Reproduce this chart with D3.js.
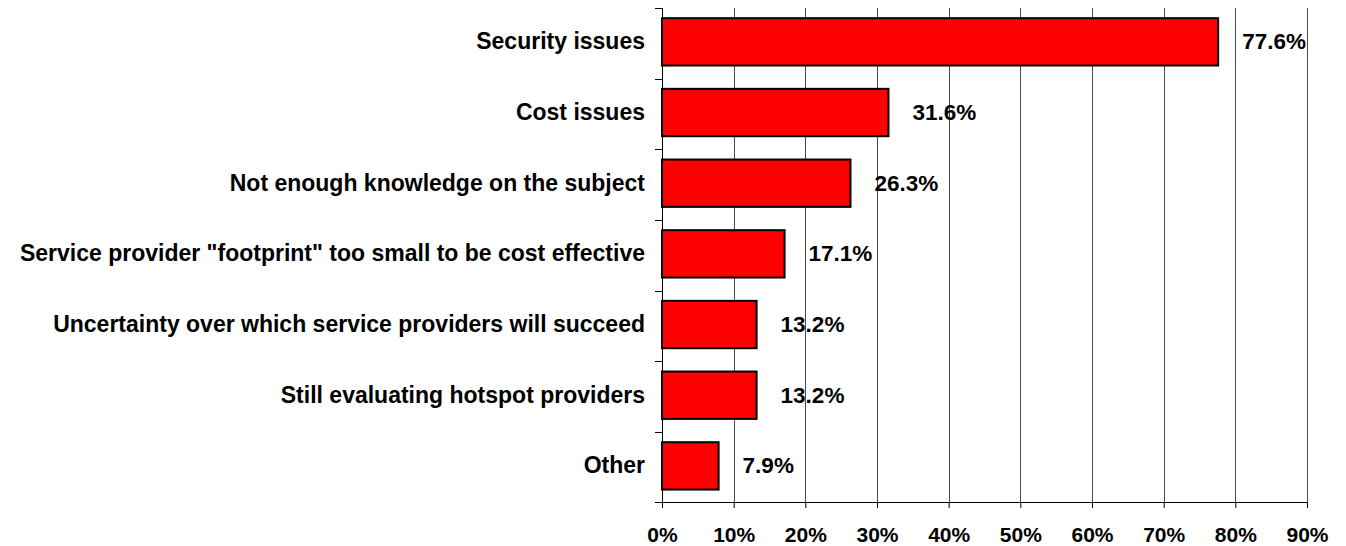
<!DOCTYPE html>
<html>
<head>
<meta charset="utf-8">
<script src="https://cdn.jsdelivr.net/npm/d3@7"></script>
<style>
  body { margin: 0; background: #fff; }
  svg { display: block; }
  text { font-family: "Liberation Sans", Arial, sans-serif; font-weight: bold; fill: #000; }
</style>
</head>
<body>
<svg id="chart"></svg>
<script>
/* ── DATA ── */
const categories = [
  'Security issues',
  'Cost issues',
  'Not enough knowledge on the subject',
  'Service provider "footprint" too small to be cost effective',
  'Uncertainty over which service providers will succeed',
  'Still evaluating hotspot providers',
  'Other'
];
const values = [77.6, 31.6, 26.3, 17.1, 13.2, 13.2, 7.9];
const xTicks = [0, 10, 20, 30, 40, 50, 60, 70, 80, 90];

/* ── CHART ── */
(function () {
  const W = 1346, H = 546;
  const margin = { top: 8, right: 39, bottom: 44, left: 662 };
  const width = W - margin.left - margin.right;
  const height = H - margin.top - margin.bottom;

  const svg = d3.select('#chart').attr('width', W).attr('height', H);
  const g = svg.append('g').attr('transform', `translate(${margin.left},${margin.top})`);

  const x = d3.scaleLinear().domain([0, 90]).range([0, width]);
  const y = d3.scaleBand().domain(categories).range([0, height])
    .paddingInner(0.33).paddingOuter(0.16).align(0.45);
  const step = y.step();

  // vertical gridlines
  g.append('g')
    .selectAll('line')
    .data(xTicks.slice(1))
    .join('line')
    .attr('x1', d => Math.round(x(d)) + 0.5).attr('x2', d => Math.round(x(d)) + 0.5)
    .attr('y1', 0).attr('y2', height)
    .attr('stroke', '#4a4a4a').attr('stroke-width', 1);

  // bottom axis
  const xAxis = g.append('g')
    .attr('transform', `translate(0,${height})`)
    .call(d3.axisBottom(x).tickValues(xTicks).tickFormat(d => d + '%').tickSize(6).tickPadding(19));
  xAxis.select('.domain').attr('stroke', '#000').attr('d', `M-7,0.5H${width}`);
  xAxis.selectAll('.tick line').attr('stroke', '#000');
  xAxis.selectAll('.tick text')
    .style('font-family', '"Liberation Sans", Arial, sans-serif')
    .style('font-weight', 'bold').style('font-size', '21px').attr('fill', '#000');

  // left axis with ticks at category boundaries
  g.append('line')
    .attr('x1', 0.5).attr('x2', 0.5).attr('y1', 0).attr('y2', height)
    .attr('stroke', '#000');
  g.append('g')
    .selectAll('line')
    .data(d3.range(categories.length))
    .join('line')
    .attr('x1', -7).attr('x2', 0)
    .attr('y1', i => Math.round(i * step) + 0.5).attr('y2', i => Math.round(i * step) + 0.5)
    .attr('stroke', '#000');

  // category labels
  g.append('g')
    .selectAll('text')
    .data(categories)
    .join('text')
    .attr('x', -17)
    .attr('y', (d, i) => i * step + step / 2 - 2)
    .attr('text-anchor', 'end')
    .attr('dominant-baseline', 'central')
    .style('font-size', '23px')
    .text(d => d);

  // bars
  g.append('g')
    .selectAll('rect')
    .data(values)
    .join('rect')
    .attr('x', x(0))
    .attr('y', (d, i) => y(categories[i]))
    .attr('width', d => x(d) - x(0))
    .attr('height', y.bandwidth())
    .attr('fill', '#ff0000')
    .attr('stroke', '#000')
    .attr('stroke-width', 2);

  // value labels
  g.append('g')
    .selectAll('text')
    .data(values)
    .join('text')
    .attr('x', d => x(d) + 24)
    .attr('y', (d, i) => y(categories[i]) + y.bandwidth() / 2)
    .attr('dominant-baseline', 'central')
    .style('font-size', '22.5px')
    .text(d => d.toFixed(1) + '%');
})();
</script>
</body>
</html>
